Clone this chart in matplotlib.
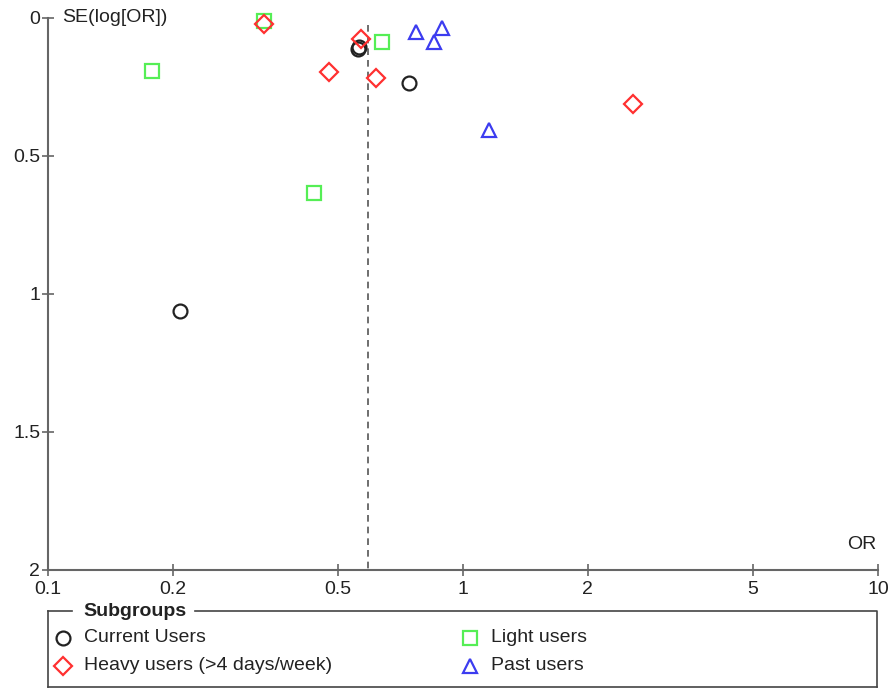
import matplotlib
matplotlib.use("Agg")
import matplotlib.pyplot as plt
from matplotlib.ticker import FixedLocator, NullLocator

plt.rcParams['font.family'] = ['Liberation Sans', 'DejaVu Sans']

# odds ratios and standard errors
current_or = [0.208, 0.558, 0.562, 0.741]
current_se = [1.062, 0.112, 0.104, 0.236]

light_or = [0.178, 0.331, 0.438, 0.638]
light_se = [0.192, 0.011, 0.634, 0.087]

heavy_or = [0.331, 0.475, 0.567, 0.616, 2.57]
heavy_se = [0.022, 0.196, 0.076, 0.217, 0.312]

past_or = [0.771, 0.851, 0.889, 1.156]
past_se = [0.051, 0.087, 0.036, 0.406]

pooled_or = 0.59

x_ticks = [0.1, 0.2, 0.5, 1, 2, 5, 10]
x_labels = ['0.1', '0.2', '0.5', '1', '2', '5', '10']
y_ticks = [0, 0.5, 1, 1.5, 2]
y_labels = ['0', '0.5', '1', '1.5', '2']

groups = [
    ('Current Users', current_or, current_se, 'o', '#222222', 10),
    ('Light users', light_or, light_se, 's', '#55ee55', 9.5),
    ('Heavy users (>4 days/week)', heavy_or, heavy_se, 'D', '#ff3030', 9),
    ('Past users', past_or, past_se, '^', '#3c3cf0', 10),
]

fs = 14

fig = plt.figure(figsize=(8.96, 6.88), dpi=100)
ax = fig.add_axes([48 / 896, 1 - 570 / 688, 830 / 896, 552 / 688])

for name, xs, ys, mk, col, ms in groups:
    ax.plot(xs, ys, linestyle='none', marker=mk, markersize=ms,
            markerfacecolor='none', markeredgecolor=col, markeredgewidth=1.6,
            clip_on=False, zorder=3)

ax.vlines(pooled_or, 0.025, 2, colors='#555555', linestyles=(0, (4, 3)), linewidth=1.2)

ax.set_xscale('log')
ax.set_xlim(0.1, 10)
ax.set_ylim(2, 0)
ax.xaxis.set_major_locator(FixedLocator(x_ticks))
ax.xaxis.set_minor_locator(NullLocator())
ax.set_xticklabels(x_labels)
ax.set_yticks(y_ticks)
ax.set_yticklabels(y_labels)

for s in ['top', 'right']:
    ax.spines[s].set_visible(False)
for s in ['left', 'bottom']:
    ax.spines[s].set_color('#666666')
    ax.spines[s].set_linewidth(1.5)
ax.tick_params(direction='inout', length=9, width=1.2, color='#666666',
               labelsize=fs, labelcolor='#222222', pad=1)
ax.tick_params(axis='x', pad=3.5)

ax.text(0.017, 1.0, 'SE(log[OR])', transform=ax.transAxes, fontsize=fs,
        color='#222222', va='center', ha='left')
ax.text(0.998, 0.03, 'OR', transform=ax.transAxes, fontsize=fs,
        color='#222222', va='bottom', ha='right')

# legend box drawn by hand so its title can break the frame line
lg = fig.add_axes([48 / 896, 1 - 687 / 688, 829 / 896, 76 / 688])
lg.set_xlim(0, 829)
lg.set_ylim(76, 0)
lg.axis('off')
frame = dict(color='#444444', linewidth=1.2, clip_on=False)
lg.plot([0, 24], [0, 0], **frame)
lg.plot([147, 829, 829], [0, 0, 76], **frame)
lg.plot([0, 0], [0, 76], **frame)
lg.plot([0, 829], [76, 76], **frame)
lg.text(35, 0, 'Subgroups', fontsize=fs, fontweight='bold', va='center',
        ha='left', color='#222222')

slots = [(15, 27), (422, 27), (15, 55), (422, 55)]
for (name, xs, ys, mk, col, ms), (lx, ly) in zip(groups, slots):
    lg.plot([lx], [ly], linestyle='none', marker=mk, markersize=ms,
            markerfacecolor='none', markeredgecolor=col, markeredgewidth=1.6,
            clip_on=False)
    lg.text(lx + 21, ly, name, fontsize=fs, va='center', ha='left',
            color='#222222')

fig.savefig('out.png', dpi=100, facecolor='white')
